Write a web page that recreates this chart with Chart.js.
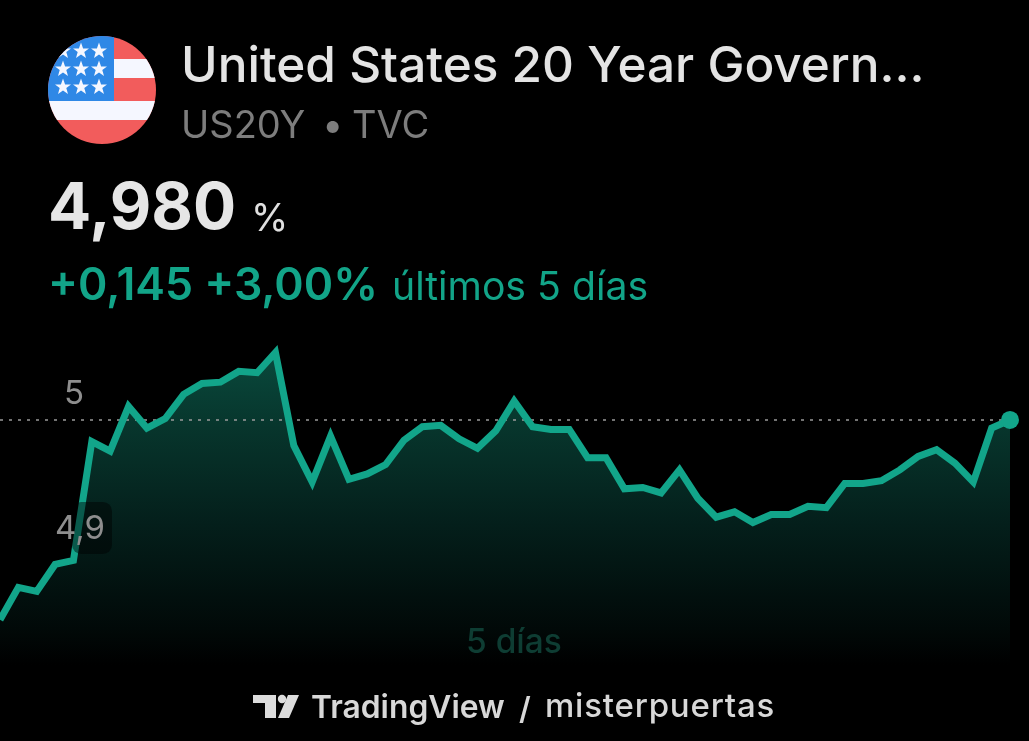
<!DOCTYPE html>
<html>
<head>
<meta charset="utf-8">
<script src="https://cdn.jsdelivr.net/npm/chart.js@4"></script>
<style>
  html, body { margin: 0; background: #000; width: 1029px; height: 741px; overflow: hidden; }
  body { position: relative; font-family: Inter, "Noto Sans", sans-serif; }
  #my-chart { position: absolute; left: 0; top: 0; }
  .txt { position: absolute; white-space: nowrap; line-height: 1; }
  svg { position: absolute; left: 0; top: 0; }
</style>
</head>
<body>
<canvas id="my-chart" width="1029" height="741"></canvas>

<svg width="1029" height="741">
  <defs>
    <clipPath id="flag"><circle cx="102" cy="90" r="54"/></clipPath>
    <polygon id="star" points="0,-8.5 2.1,-2.6 8,-2.6 3.3,1.1 5,7 0,3.5 -5,7 -3.3,1.1 -8,-2.6 -2.1,-2.6" fill="#f5f7ff"/>
  </defs>
  <g clip-path="url(#flag)">
    <rect x="48" y="36" width="108" height="108" fill="#f25c5c"/>
    <rect x="114" y="59" width="42" height="19" fill="#f5f7ff"/>
    <rect x="48" y="101" width="108" height="19" fill="#f5f7ff"/>
    <rect x="48" y="36" width="66" height="65" fill="#2f88e6"/>
    <use href="#star" x="63" y="51"/><use href="#star" x="81" y="51"/><use href="#star" x="99" y="51"/>
    <use href="#star" x="63" y="69"/><use href="#star" x="81" y="69"/><use href="#star" x="99" y="69"/>
    <use href="#star" x="63" y="87"/><use href="#star" x="81" y="87"/><use href="#star" x="99" y="87"/>
  </g>
  <!-- tradingview mark -->
  <path d="M253 695H276V718H265V703H253Z" fill="#dcdcdc"/>
  <circle cx="282" cy="699" r="4.2" fill="#dcdcdc"/>
  <path d="M288 695H299L289 718H278Z" fill="#dcdcdc"/>
</svg>

<div class="txt" style="left:181px;top:40px;font-size:49.5px;font-weight:500;color:#e4e4e4">United States 20 Year Govern...</div>
<div class="txt" style="left:181px;top:105px;font-size:38px;color:#7d7d7d">US20Y</div>
<div class="txt" style="left:322px;top:105px;font-size:38px;color:#7d7d7d">•</div>
<div class="txt" style="left:352px;top:105px;font-size:38px;color:#7d7d7d">TVC</div>
<div class="txt" style="left:48px;top:174px;font-size:64px;font-weight:700;color:#e6e6e6">4,980</div>
<div class="txt" style="left:251px;top:198px;font-size:38px;color:#e0e0e0">%</div>
<div class="txt" style="left:48px;top:262px;font-size:44.6px;font-weight:600;color:#12a488">+0,145 +3,00%</div>
<div class="txt" style="left:392px;top:266px;font-size:39.2px;color:#12a488">últimos 5 días</div>
<div class="txt" style="left:466px;top:625px;font-size:33.5px;font-weight:500;color:#0e3d33">5 días</div>
<div class="txt" style="left:311px;top:691px;font-size:31.8px;font-weight:600;color:#d8d8d8">TradingView</div>
<div class="txt" style="left:519px;top:693px;font-size:31px;font-weight:600;color:#d8d8d8">/</div>
<div class="txt" style="left:545px;top:689px;font-size:33px;font-weight:500;letter-spacing:0.8px;color:#d8d8d8">misterpuertas</div>

<script>
const yields = [
  4.832, 4.856, 4.853, 4.873, 4.876, 4.964, 4.957, 4.990,
  4.974, 4.981, 4.999, 5.007, 5.008, 5.016, 5.015, 5.030,
  4.961, 4.934, 4.968, 4.936, 4.940, 4.947, 4.965, 4.975,
  4.976, 4.966, 4.959, 4.972, 4.994, 4.975, 4.973, 4.973,
  4.952, 4.952, 4.929, 4.930, 4.926, 4.943, 4.922, 4.908,
  4.912, 4.904, 4.910, 4.910, 4.916, 4.915, 4.933, 4.933,
  4.935, 4.943, 4.953, 4.958, 4.948, 4.934, 4.974, 4.980
];
const periods = yields.map((v, i) => i);
const lastPrice = yields.map(() => 4.98);
const yTicks = [5, 4.9];
const yTickLabels = ['5', '4,9'];

// y tick labels sit inside the plot, 4,9 gets the dark pill behind it
const priceLabels = {
  id: 'priceLabels',
  afterDatasetsDraw(chart) {
    const c = chart.ctx;
    const y = chart.scales.y;
    c.save();
    c.font = '33px Inter';
    c.textAlign = 'center';
    c.textBaseline = 'middle';
    yTicks.forEach((t, i) => {
      const py = y.getPixelForValue(t);
      if (i === 1) {
        c.fillStyle = 'rgba(0,0,0,0.45)';
        c.beginPath();
        c.roundRect(72, py - 26, 40, 52, 9);
        c.fill();
      }
      c.fillStyle = '#8e8e8e';
      c.fillText(yTickLabels[i], i === 1 ? 80 : 74, py + 1);
    });
    c.restore();
  }
};

const myChart = document.getElementById('my-chart').getContext('2d');
const lineChart = new Chart(myChart, {
  type: 'line',
  data: {
    labels: periods,
    datasets: [
      {
        data: yields,
        order: 1,
        borderColor: '#12a58a',
        borderWidth: 7,
        borderJoinStyle: 'miter',
        tension: 0,
        fill: 'start',
        backgroundColor: (ctx) => {
          const g = ctx.chart.ctx.createLinearGradient(0, 350, 0, 665);
          g.addColorStop(0, '#094a3d');
          g.addColorStop(0.25, '#07352c');
          g.addColorStop(0.55, '#041f1b');
          g.addColorStop(0.9, '#010807');
          g.addColorStop(1, '#000000');
          return g;
        },
        pointRadius: (ctx) => (ctx.dataIndex === yields.length - 1 ? 9 : 0),
        pointBackgroundColor: '#12a58a',
        pointBorderWidth: 0,
      },
      {
        data: lastPrice,
        order: 2,
        borderColor: '#9a9a9a',
        borderWidth: 1.5,
        borderDash: [3, 6],
        pointRadius: 0,
        fill: false,
      }
    ],
  },
  options: {
    responsive: false,
    animation: false,
    layout: { autoPadding: false, padding: { left: 0, right: 19, top: 0, bottom: 0 } },
    plugins: {
      legend: { display: false },
      tooltip: { enabled: false },
      filler: { drawTime: 'beforeDatasetsDraw' },
    },
    scales: {
      x: { display: false, offset: false },
      // 1350 px per point, so 4.98 lands on the dotted line
      y: { display: false, min: 4.7422, max: 5.2911 },
    },
  },
  plugins: [priceLabels],
});
</script>
</body>
</html>
